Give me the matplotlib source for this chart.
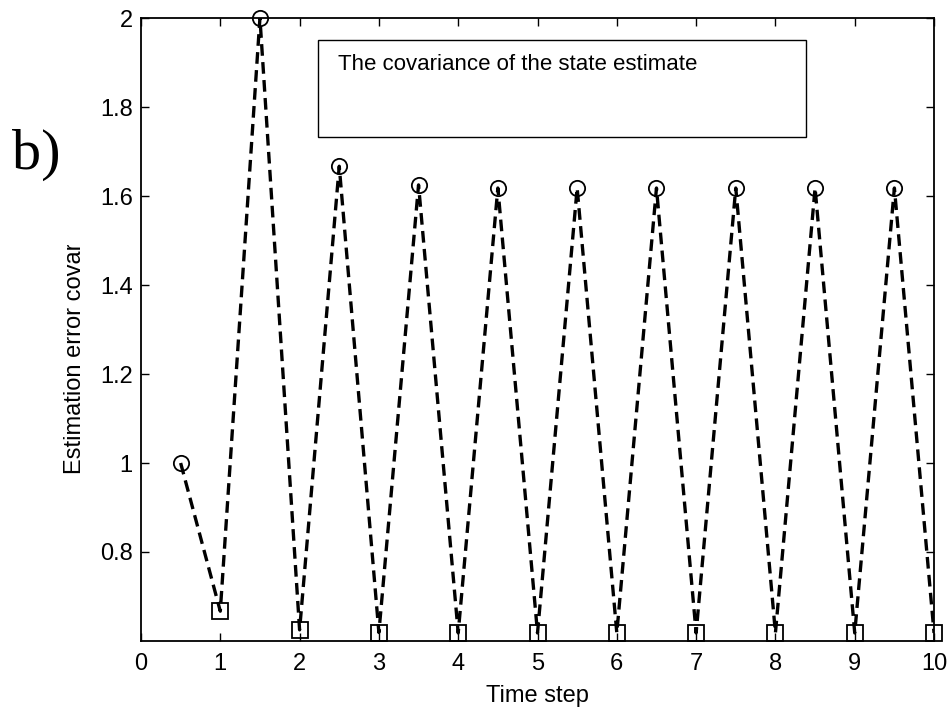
import matplotlib.pyplot as plt
import matplotlib.patches as patches
import numpy as np

plt.rcParams['font.family'] = ['Liberation Sans', 'DejaVu Sans']

# a priori covariance (circles) and a posteriori covariance (squares)
prior_t = [0.5, 1.5, 2.5, 3.5, 4.5, 5.5, 6.5, 7.5, 8.5, 9.5]
prior_cov = [1.0, 2.0, 1.667, 1.625, 1.618, 1.618, 1.618, 1.618, 1.618, 1.618]
post_t = [1, 2, 3, 4, 5, 6, 7, 8, 9, 10]
post_cov = [0.667, 0.625, 0.619, 0.618, 0.618, 0.618, 0.618, 0.618, 0.618, 0.618]

x_ticks = [0, 1, 2, 3, 4, 5, 6, 7, 8, 9, 10]
y_ticks = [0.8, 1.0, 1.2, 1.4, 1.6, 1.8, 2.0]
y_ticklabels = ['0.8', '1', '1.2', '1.4', '1.6', '1.8', '2']

# zig-zag line through both sets, in time order
t_all = np.array(prior_t + post_t, dtype=float)
c_all = np.array(prior_cov + post_cov)
order = np.argsort(t_all)

fig = plt.figure(figsize=(9.5, 7.1), dpi=100)
ax = fig.add_axes([0.1484, 0.0972, 0.8348, 0.8774])

ax.plot(t_all[order], c_all[order], color='black', linestyle='--', linewidth=2.4, dashes=(3.5, 1.9))
ax.plot(prior_t, prior_cov, linestyle='none', marker='o', markersize=11,
        markerfacecolor='none', markeredgecolor='black', markeredgewidth=1.3, clip_on=False)
ax.plot(post_t, post_cov, linestyle='none', marker='s', markersize=11,
        markerfacecolor='none', markeredgecolor='black', markeredgewidth=1.3, clip_on=False)

ax.set_xlim(0, 10)
ax.set_ylim(0.6, 2.0)
ax.set_xticks(x_ticks)
ax.set_yticks(y_ticks)
ax.set_yticklabels(y_ticklabels)
ax.tick_params(direction='in', length=6, width=1, top=True, right=True, labelsize=17)
ax.tick_params(axis='x', pad=9)
ax.tick_params(axis='y', pad=6)
for s in ax.spines.values():
    s.set_linewidth(1.3)

ax.set_xlabel('Time step', fontsize=17, labelpad=7)
ax.set_ylabel('Estimation error covariance', fontsize=17, labelpad=10)

# text box inside the plot
ax.add_patch(patches.Rectangle((0.223, 0.809), 0.616, 0.156, transform=ax.transAxes,
                               fill=False, edgecolor='black', linewidth=1))
ax.text(0.248, 0.925, 'The covariance of the state estimate', transform=ax.transAxes,
        fontsize=16, va='center', ha='left')

# panel tag on a white patch
fig.patches.append(patches.Rectangle((0, 1 - 245 / 710), 95 / 950, 245 / 710,
                                     transform=fig.transFigure, facecolor='white',
                                     edgecolor='none', zorder=5))
fig.text(12 / 950, 1 - 155 / 710, 'b)', fontsize=42, family='Liberation Serif',
         va='center', ha='left', zorder=6)

plt.savefig('out.png', dpi=100)
